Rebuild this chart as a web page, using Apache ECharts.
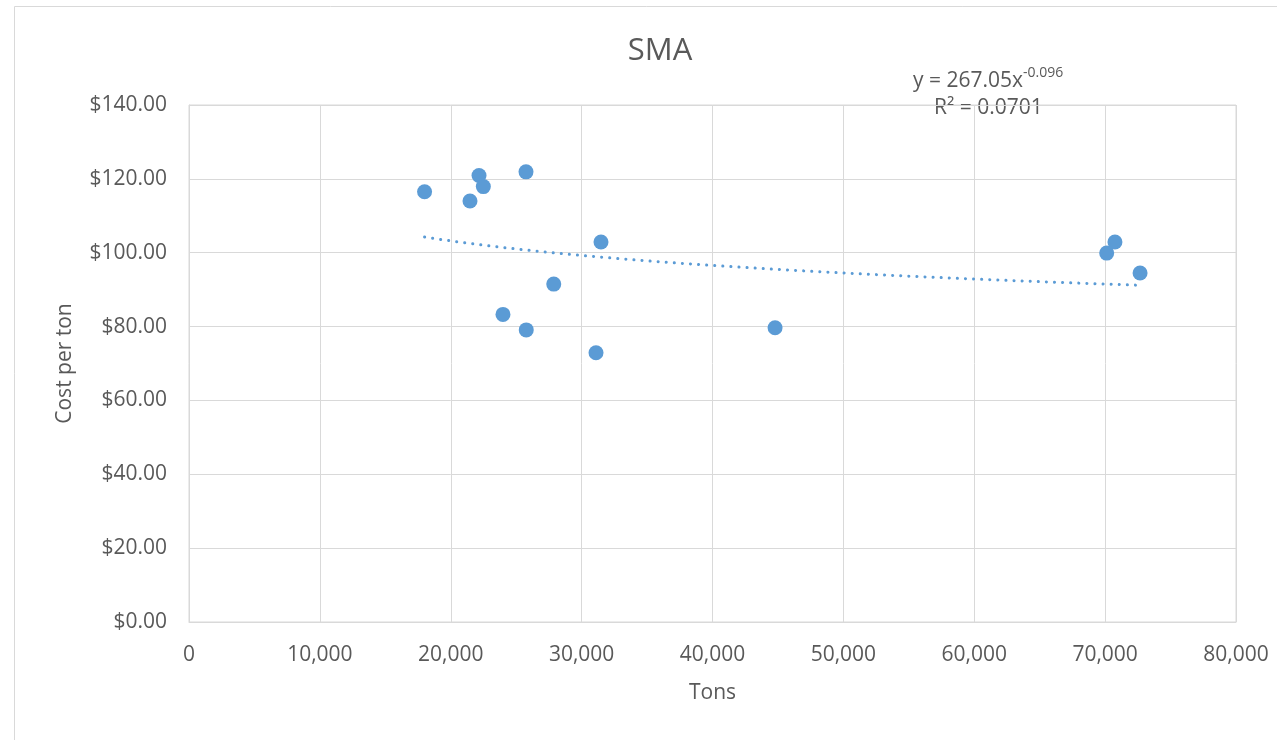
<!DOCTYPE html>
<html>
<head>
<meta charset="utf-8">
<script src="https://cdn.jsdelivr.net/npm/echarts@6/dist/echarts.min.js"></script>
<style>
  html, body { margin: 0; padding: 0; background: #fff; }
  #chart { width: 1277px; height: 740px; }
</style>
</head>
<body>
<div id="chart"></div>
<script>
// scatter points
const tons = [18000, 22160, 22490, 21470, 25750, 31480, 27870, 23990, 25770, 31100, 44780, 70750, 70120, 72670];
const costPerTon = [116.5, 120.9, 117.9, 114.0, 121.9, 102.9, 91.5, 83.3, 79.1, 72.9, 79.7, 102.9, 99.9, 94.5];

// power trendline as printed on the chart: y = a * x^b
const trendA = 267.05;
const trendB = -0.096;
const trendR2 = "0.0701";

const yTicks = [0, 20, 40, 60, 80, 100, 120, 140];
const xTicks = [0, 10000, 20000, 30000, 40000, 50000, 60000, 70000, 80000];

const fontFamily = "'Open Sans', 'Liberation Sans', sans-serif";
const textColor = "#595959";
const gridColor = "#d9d9d9";
const blue = "#5b9bd5";

const chart = echarts.init(document.getElementById("chart"));

// trendline samples between smallest and largest x
const xMin = Math.min(...tons);
const xMax = Math.max(...tons);
const trendData = [];
for (let i = 0; i <= 80; i++) {
  const x = xMin + (xMax - xMin) * i / 80;
  trendData.push([x, trendA * Math.pow(x, trendB)]);
}

const option = {
  animation: false,
  textStyle: { fontFamily: fontFamily },
  title: {
    text: "SMA",
    left: 655,
    top: 31,
    textAlign: "center",
    textStyle: { fontFamily: fontFamily, fontSize: 31, fontWeight: "normal", color: textColor },
  },
  grid: {
    left: 189,
    top: 105,
    width: 1047,
    height: 517,
    show: true,
    borderColor: gridColor,
    borderWidth: 1,
    containLabel: false,
  },
  xAxis: {
    type: "value",
    min: xTicks[0],
    max: xTicks[xTicks.length - 1],
    interval: 10000,
    name: "Tons",
    nameLocation: "middle",
    nameGap: 61,
    nameTextStyle: { fontSize: 21, color: textColor, fontFamily: fontFamily },
    axisLine: { show: true, lineStyle: { color: gridColor } },
    axisTick: { show: false },
    splitLine: { show: true, lineStyle: { color: gridColor, width: 1 } },
    axisLabel: {
      fontSize: 21,
      color: textColor,
      margin: 23,
      formatter: (v) => (v === 0 ? "0" : v.toLocaleString("en-US")),
    },
  },
  yAxis: {
    type: "value",
    min: yTicks[0],
    max: yTicks[yTicks.length - 1],
    interval: 20,
    name: "Cost per ton",
    nameLocation: "middle",
    nameGap: 113,
    nameTextStyle: { fontSize: 21, color: textColor, fontFamily: fontFamily },
    axisLine: { show: true, lineStyle: { color: gridColor } },
    axisTick: { show: false },
    splitLine: { show: true, lineStyle: { color: gridColor, width: 1 } },
    axisLabel: {
      fontSize: 21,
      color: textColor,
      margin: 22,
      formatter: (v) => "$" + v.toFixed(2),
    },
  },
  series: [
    {
      name: "Trend",
      type: "line",
      data: trendData,
      showSymbol: false,
      smooth: false,
      z: 2,
      lineStyle: { color: blue, width: 3, type: [0.1, 8], cap: "round" },
    },
    {
      name: "SMA",
      type: "scatter",
      data: tons.map((t, i) => [t, costPerTon[i]]),
      symbolSize: 15,
      z: 3,
      itemStyle: { color: blue, opacity: 1 },
    },
  ],
  graphic: [
    {
      type: "rect",
      shape: { x: 14.5, y: 6.5, width: 1300, height: 800 },
      style: { fill: "none", stroke: gridColor, lineWidth: 1 },
      silent: true,
    },
    {
      type: "text",
      left: 913,
      top: 66,
      style: {
        text: "{m|y = " + trendA + "x}{s|" + trendB + "}",
        rich: {
          m: { fontSize: 21, fontFamily: fontFamily, fill: textColor, verticalAlign: "bottom" },
          s: { fontSize: 14, fontFamily: fontFamily, fill: textColor, verticalAlign: "top", padding: [0, 0, 12, 0] },
        },
      },
    },
    {
      type: "text",
      left: 934,
      top: 98,
      style: {
        text: "R² = " + trendR2,
        fontSize: 21,
        fontFamily: fontFamily,
        fill: textColor,
      },
    },
  ],
};

chart.setOption(option);
</script>
</body>
</html>
